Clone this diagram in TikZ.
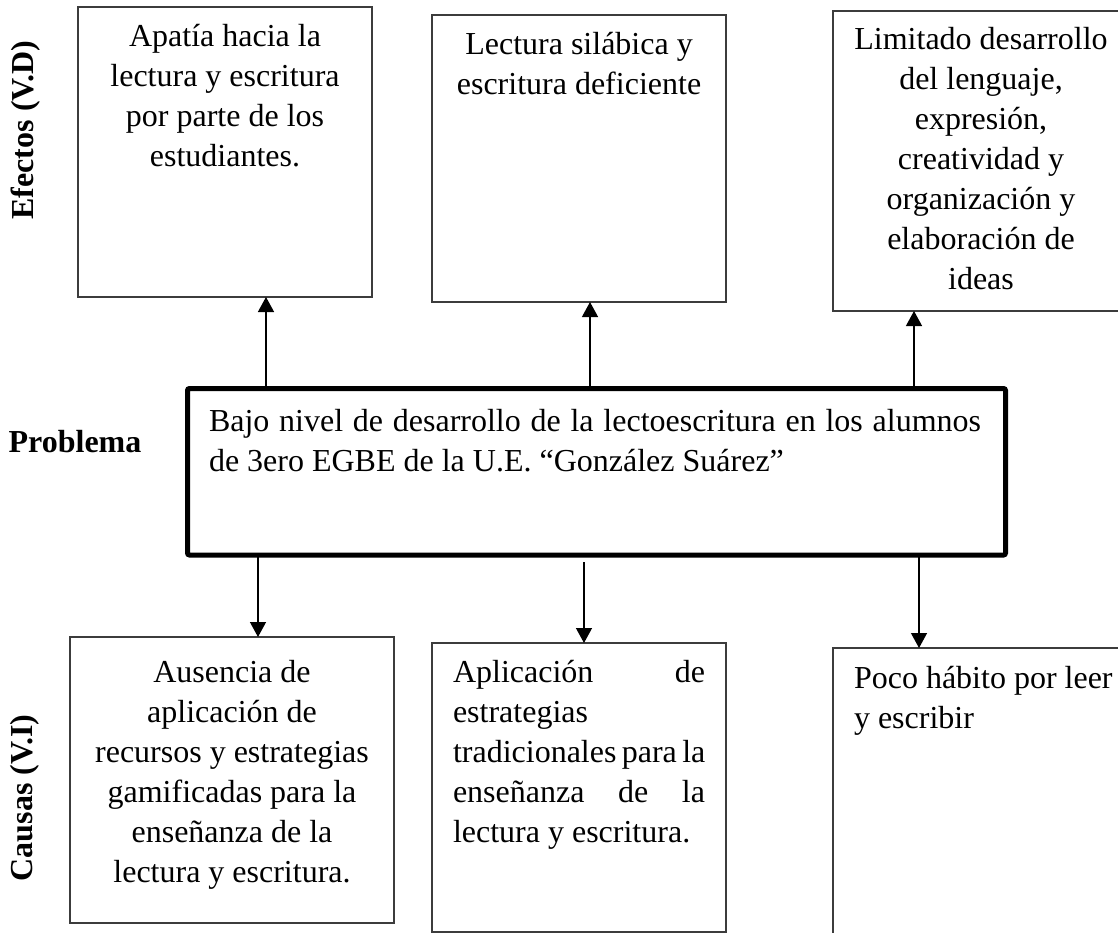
\documentclass[tikz,border=0pt]{standalone}
\usepackage{fontspec}
\setmainfont{Liberation Serif}
\usetikzlibrary{arrows.meta}
\definecolor{edge}{RGB}{60,60,60}
\newcommand\natsp{\spaceskip=0pt\xspaceskip=0pt\relax}
\begin{document}
\begin{tikzpicture}[x=1pt,y=1pt,
  box/.style={draw=edge, line width=1.3pt, inner sep=0pt, outer sep=0pt, anchor=north west},
  probbox/.style={draw=black, line width=5pt, rounded corners=2pt, inner sep=0pt, outer sep=0pt, anchor=north west},
  txt/.style={inner sep=0pt, outer sep=0pt, anchor=base, font=\fontsize{32}{40}\selectfont},
  side/.style={inner sep=0pt, font=\fontsize{32}{40}\selectfont\bfseries},
  arr/.style={draw=black, line width=1.3pt, -{Triangle[length=15pt,width=16pt]}}
]
\useasboundingbox (0,0) rectangle (1118,-933);
\clip (0,0) rectangle (1118,-933);

% side labels
\node[side, rotate=90] (efectos) at (26,-130) {Efectos (V.D)};
\node[side, anchor=base] (problema) at (75,-452) {Problema};
\node[side, rotate=90] (causas) at (25,-798) {Causas (V.I)};

% effect boxes
\node[box, minimum width=294pt, minimum height=290pt] (b1) at (78,-7) {};
\node[box, minimum width=294pt, minimum height=287pt] (b2) at (432,-15) {};
\node[box, minimum width=296pt, minimum height=300pt] (b3) at (833,-11) {};

\node[txt, text width=290pt] (t1) at (225,-47)
  {\centering\natsp Apatía hacia la\\lectura y escritura\\por parte de los\\estudiantes.\par};
\node[txt, text width=290pt] (t2) at (579,-55)
  {\centering\natsp Lectura silábica y\\escritura deficiente\par};
\node[txt, text width=290pt] (t3) at (981,-50)
  {\centering\natsp Limitado desarrollo\\del lenguaje,\\expresión,\\creatividad y\\organización y\\elaboración de\\ideas\par};

% problem box
\node[probbox, minimum width=818pt, minimum height=166.5pt] (prob) at (187.5,-388.5) {};
\node[txt, text width=772pt, align=left, anchor=base west] (tp) at (209,-431)
  {\natsp\makebox[772pt][s]{Bajo nivel de desarrollo de la lectoescritura en los alumnos}\\de 3ero EGBE de la U.E. “González Suárez”};

% cause boxes
\node[box, minimum width=324pt, minimum height=286pt] (b4) at (70,-637) {};
\node[box, minimum width=294pt, minimum height=289pt] (b5) at (432,-643) {};
\node[box, minimum width=296pt, minimum height=310pt] (b6) at (833,-648) {};

\node[txt, text width=320pt] (t4) at (232,-682)
  {\centering\natsp Ausencia de\\aplicación de\\recursos y estrategias\\gamificadas para la\\enseñanza de la\\lectura y escritura.\par};
\node[txt, text width=254pt, align=left, anchor=base west] (t5) at (453,-682)
  {\natsp\makebox[252pt][s]{Aplicación de}\\estrategias\\\makebox[252pt][s]{tradicionales para la}\\\makebox[252pt][s]{enseñanza de la}\\lectura y escritura.};
\node[txt, text width=262pt, align=left, anchor=base west] (t6) at (854,-688)
  {\natsp Poco hábito por leer\\y escribir};

% arrow x positions
\coordinate (x1) at (266,0);
\coordinate (x2) at (590,0);
\coordinate (x3) at (914,0);
\coordinate (x4) at (258,0);
\coordinate (x5) at (584,0);
\coordinate (x6) at (919,0);

\draw[arr] (x1 |- prob.north) -- (x1 |- b1.south);
\draw[arr] (x2 |- prob.north) -- (x2 |- b2.south);
\draw[arr] (x3 |- prob.north) -- (x3 |- b3.south);
\draw[arr] (x4 |- prob.south) -- (x4 |- b4.north);
\draw[arr, shorten <=7pt] (x5 |- prob.south) -- (x5 |- b5.north);
\draw[arr] (x6 |- prob.south) -- (x6 |- b6.north);
\end{tikzpicture}
\end{document}
